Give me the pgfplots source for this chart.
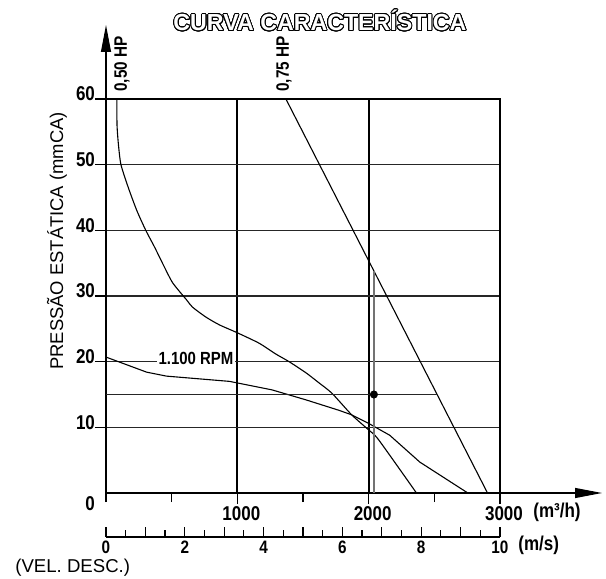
\documentclass[border=0pt]{standalone}
\usepackage{fontspec}
\setmainfont{Liberation Sans}
\newfontfamily\cnd[FakeStretch=0.85]{Liberation Sans}
\usepackage{pgfplots}
\pgfplotsset{compat=1.18}
\usetikzlibrary{arrows.meta}
\usepackage{contour}
\contourlength{0.45pt}
\contournumber{24}

\begin{document}
\begin{tikzpicture}
% caudal (m3/h) x pressao (mmCA)
\begin{axis}[
  name=main,
  scale only axis, width=197pt, height=197pt,
  xmin=0, xmax=3000, ymin=0, ymax=60,
  clip=false,
  axis line style={line width=1pt},
  xtick={1000,2000,3000},
  minor xtick={0,500,1500,2500},
  ytick={10,20,...,60},
  xtick pos=bottom, ytick pos=left,
  tick align=outside,
  major tick length=5.5pt, minor tick length=4.5pt,
  tick style={black, line width=0.6pt},
  xmajorgrids, ymajorgrids,
  x grid style={black, line width=1pt},
  y grid style={black!85, line width=0.6pt},
  /pgf/number format/assume math mode=true,
  xticklabel style={font=\fontsize{10}{10}\cnd\bfseries, xshift=2pt, yshift=2.5pt},
  yticklabel style={font=\fontsize{10}{10}\cnd\bfseries, xshift=3.5pt, yshift=2.5pt},
  xticklabels={1000,2000,3000},
  yticklabels={10,20,30,40,50,60},
]
% 0,50 HP
\addplot[black, line width=0.55pt, smooth, tension=0.4] coordinates {
  (83,60) (84,56) (95,53) (114,50) (170,46.5) (235,43) (303,40) (371,37.4)
  (440,34.6) (508,32) (614,29.4) (659,28.3) (760,26.8) (864,25.6) (1000,24.4)
  (1167,22.8) (1290,21.2) (1394,20) (1523,18.3) (1620,16.8) (1720,15.2)
  (1871,11.9) (2000,9.6) (2076,8.1) (2364,0)
};
% 1.100 RPM
\addplot[black, line width=0.55pt] coordinates {
  (0,20.7) (310,18.4) (460,17.8) (940,17.0) (1015,16.7) (1265,15.7)
  (1520,14.2) (1773,12.6) (1871,11.9) (2000,10.6) (2160,8.8) (2390,4.7) (2755,0)
};
% 0,75 HP
\addplot[black, line width=0.55pt] coordinates {(1370,60) (2905,0)};
% ponto de operacao
\addplot[black!85, line width=0.6pt] coordinates {(0,15) (2521,15)};
\addplot[black!55, line width=0.6pt] coordinates {(2040,0) (2040,33.8)};
\addplot[only marks, mark=*, mark size=1.8pt, black] coordinates {(2040,15)};
\end{axis}

% eixo de velocidade de descarga
\begin{axis}[
  at={(0,-22pt)}, anchor=south west,
  scale only axis, width=197pt, height=10pt,
  xmin=0, xmax=10, ymin=0, ymax=1,
  axis x line=bottom, hide y axis,
  x axis line style={-, line width=0.6pt},
  xtick={0,1,...,10},
  xticklabels={0,,2,,4,,6,,8,,10},
  minor xtick={0.5,1.5,...,9.5},
  tick align=inside,
  major tick length=5pt, minor tick length=3.5pt,
  tick style={black, line width=0.6pt},
  /pgf/number format/assume math mode=true,
  xticklabel style={font=\fontsize{9}{9}\cnd\bfseries, yshift=1.5pt},
]
\addplot[draw=none] coordinates {(0,0) (10,0)};
\end{axis}

% setas dos eixos
\draw[line width=0.55pt, -{Triangle[length=13.5pt, width=5pt]}] (0,197pt) -- (0,234pt);
\draw[line width=0.6pt, -{Triangle[length=13.5pt, width=5pt]}] (197pt,0) -- (248pt,0);

% textos
\node at (107pt,236pt) {\fontsize{11.6}{12}\selectfont\bfseries\contour{black}{\textcolor{white}{CURVA CARACTERÍSTICA}}};
\node[rotate=90] at (-24.5pt,126pt) {\fontsize{9.2}{10}\selectfont PRESSÃO ESTÁTICA (mmCA)};
\node[rotate=90, anchor=west, inner sep=0pt] at (8pt,200.5pt) {\fontsize{9}{10}\cnd\bfseries 0,50 HP};
\node[rotate=90, anchor=west, inner sep=0pt] at (89pt,200.5pt) {\fontsize{9}{10}\cnd\bfseries 0,75 HP};
\node[fill=white, inner sep=0.6pt] at (45pt,67.5pt) {\fontsize{8.8}{10}\cnd\bfseries 1.100 RPM};
\node at (-8pt,-5.5pt) {\fontsize{10}{10}\cnd\bfseries 0};
\node[anchor=west, inner sep=0pt] at (213.5pt,-9.5pt) {\fontsize{10}{10}\cnd\bfseries (m³/h)};
\node[anchor=west, inner sep=0pt] at (206pt,-26pt) {\fontsize{10}{10}\cnd\bfseries (m/s)};
\node[anchor=west, inner sep=0pt] at (-45.5pt,-37.5pt) {\fontsize{9.3}{10}\selectfont (VEL. DESC.)};

\pgfresetboundingbox
\path[use as bounding box] (-53pt,-43pt) rectangle (250pt,246.5pt);
\end{tikzpicture}
\end{document}
